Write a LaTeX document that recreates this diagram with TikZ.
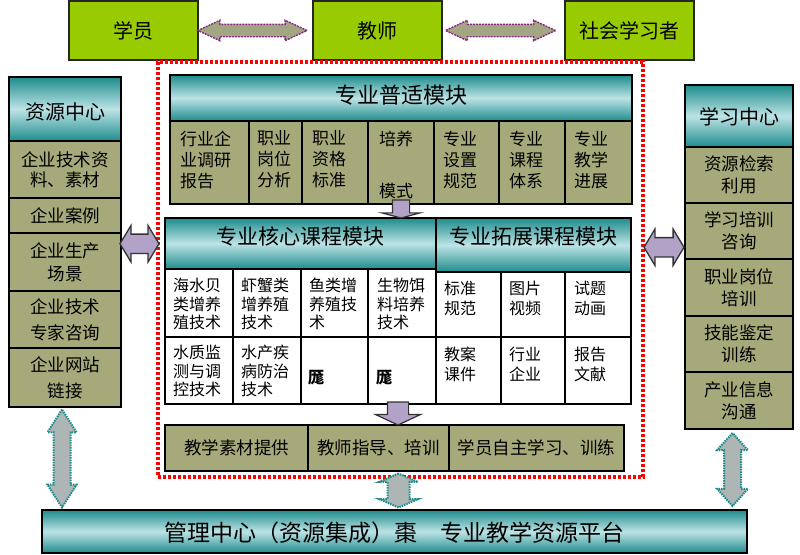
\documentclass[tikz,border=0pt]{standalone}
\usepackage{fontspec}
\setmainfont{Noto Sans CJK SC}
\usetikzlibrary{shapes.arrows,calc}
\definecolor{topgreen}{HTML}{99CC00}
\definecolor{olivecell}{HTML}{A6AA7A}
\definecolor{tealdark}{HTML}{1E8C8C}
\definecolor{teallight}{HTML}{BDE3E6}
\definecolor{arrowpurple}{HTML}{B3A2C7}
\definecolor{dashpurple}{HTML}{862A86}
\definecolor{greyarrow}{HTML}{ADB5B5}
\definecolor{tealdot}{HTML}{1F8A8A}
\definecolor{topolive}{HTML}{A3A683}
\tikzset{
 box/.style={draw=black, line width=1.2pt, inner sep=0pt, outer sep=0pt, anchor=north west},
 topbox/.style={box, fill=topgreen, draw=black!85, line width=1.5pt, font=\fontsize{20}{24}\selectfont},
 hdr/.style={box, top color=tealdark, bottom color=tealdark, middle color=teallight},
 oli/.style={box, fill=olivecell},
 wcell/.style={box, fill=white},
 frame/.style={draw=black, line width=2.6pt},
 zone/.style={draw=red, line width=3.2pt, dash pattern=on 3pt off 2pt, inner sep=0pt, outer sep=0pt, anchor=north west},
 ctext/.style={inner sep=0pt, anchor=north west, align=left, font=\fontsize{17}{21}\selectfont},
 ktext/.style={inner sep=0pt, anchor=north west, align=left, font=\fontsize{16}{18.5}\selectfont},
 etext/.style={inner sep=0pt, anchor=north west, align=left, font=\fontsize{16}{20}\selectfont},
 stext/.style={inner sep=0pt, align=center, font=\fontsize{17.5}{23}\selectfont},
 htext/.style={inner sep=0pt, font=\fontsize{21}{24}\selectfont},
 toparrow/.style={double arrow, fill=topolive, draw=dashpurple, line width=1.4pt, dash pattern=on 2pt off 1pt, inner xsep=0pt, inner ysep=5.5pt, outer sep=0pt, double arrow head extend=4pt, double arrow tip angle=50, minimum height=109pt},
 midarrow/.style={double arrow, fill=arrowpurple, draw=black!80, line width=1.3pt, inner xsep=0pt, inner ysep=9pt, outer sep=0pt, double arrow head extend=8.5pt, double arrow tip angle=118},
 greyvarrow/.style={double arrow, fill=greyarrow, draw=tealdot, line width=2pt, dash pattern=on 1.5pt off 1pt, inner xsep=0pt, outer sep=0pt, rotate=90},
 downarrow/.style={single arrow, fill=arrowpurple, draw=black!80, line width=1.2pt, inner xsep=0pt, outer sep=0pt, rotate=-90, anchor=tail},
}
\begin{document}
\begin{tikzpicture}[x=1pt,y=-1pt]
\useasboundingbox (0,0) rectangle (800,554);
% top boxes
\node[topbox, minimum width=129pt, minimum height=59pt] (xueyuan) at (69,1) {学员};
\node[topbox, minimum width=129pt, minimum height=59pt] (jiaoshi) at (313,1) {教师};
\node[topbox, minimum width=129pt, minimum height=59pt] (shehui) at (565,1) {社会学习者};
\node[toparrow] (a1) at ($(xueyuan.east)!0.5!(jiaoshi.west)+(-3,0)$) {};
\node[toparrow, minimum height=110pt] (a2) at ($(jiaoshi.east)!0.5!(shehui.west)+(-3,0)$) {};
% zone
\node[zone, minimum width=485pt, minimum height=415pt] (zone) at (158,62) {};
% left column
\node[hdr, minimum width=112pt, minimum height=64pt] (lh) at (9,77) {};
\node[htext, font=\fontsize{20}{24}\selectfont] (lht) at ([yshift=-3pt]lh.center) {资源中心};
\node[oli, minimum width=112pt, minimum height=57pt] (l1) at (9,141) {};
\node[oli, minimum width=112pt, minimum height=35pt] (l2) at (9,198) {};
\node[oli, minimum width=112pt, minimum height=58pt] (l3) at (9,233) {};
\node[oli, minimum width=112pt, minimum height=57pt] (l4) at (9,291) {};
\node[oli, minimum width=112pt, minimum height=59pt] (l5) at (9,348) {};
\node[stext, font=\fontsize{17.5}{20}\selectfont] (l1t) at (l1.center) {企业技术资\\料、素材};
\node[stext] (l2t) at (l2.center) {企业案例};
\node[stext] (l3t) at (l3.center) {企业生产\\场景};
\node[stext, font=\fontsize{17.5}{26}\selectfont] (l4t) at (l4.center) {企业技术\\专家咨询};
\node[stext, font=\fontsize{17.5}{26}\selectfont] (l5t) at (l5.center) {企业网站\\链接};
\draw[frame] (lh.north west) rectangle (l5.south east);
% right column
\node[hdr, minimum width=108pt, minimum height=62pt] (rh) at (685,85) {};
\node[htext, font=\fontsize{20}{24}\selectfont] (rht) at ([yshift=-1pt]rh.center) {学习中心};
\node[oli, minimum width=108pt, minimum height=56pt] (r1) at (685,147) {};
\node[oli, minimum width=108pt, minimum height=56pt] (r2) at (685,203) {};
\node[oli, minimum width=108pt, minimum height=57pt] (r3) at (685,259) {};
\node[oli, minimum width=108pt, minimum height=56pt] (r4) at (685,316) {};
\node[oli, minimum width=108pt, minimum height=57pt] (r5) at (685,372) {};
\node[stext, font=\fontsize{17.5}{22}\selectfont] (r1t) at (r1.center) {资源检索\\利用};
\node[stext, font=\fontsize{17.5}{22}\selectfont] (r2t) at (r2.center) {学习培训\\咨询};
\node[stext, font=\fontsize{17.5}{22}\selectfont] (r3t) at (r3.center) {职业岗位\\培训};
\node[stext, font=\fontsize{17.5}{22}\selectfont] (r4t) at (r4.center) {技能鉴定\\训练};
\node[stext, font=\fontsize{17.5}{22}\selectfont] (r5t) at (r5.center) {产业信息\\沟通};
\draw[frame] (rh.north west) rectangle (r5.south east);
% general module
\node[hdr, minimum width=462pt, minimum height=46pt] (ph) at (170,75) {};
\node[htext, font=\fontsize{22}{24}\selectfont] (pht) at ([yshift=3pt]ph.center) {专业普适模块};
\node[oli, minimum width=79pt, minimum height=83pt] (p1) at (170,121) {};
\node[oli, minimum width=53pt, minimum height=83pt] (p2) at (249,121) {};
\node[oli, minimum width=66pt, minimum height=83pt] (p3) at (302,121) {};
\node[oli, minimum width=66pt, minimum height=83pt] (p4) at (368,121) {};
\node[oli, minimum width=65pt, minimum height=83pt] (p5) at (434,121) {};
\node[oli, minimum width=66pt, minimum height=83pt] (p6) at (499,121) {};
\node[oli, minimum width=67pt, minimum height=83pt] (p7) at (565,121) {};
\node[ctext] (p1t) at ([shift={(10pt,-9.5pt)}]p1.north west) {行业企\\业调研\\报告};
\node[ctext] (p2t) at ([shift={(8pt,-9.5pt)}]p2.north west) {职业\\岗位\\分析};
\node[ctext] (p3t) at ([shift={(10pt,-9.5pt)}]p3.north west) {职业\\资格\\标准};
\node[ctext] (p4t) at ([shift={(11pt,-9.5pt)}]p4.north west) {培养\\[31pt]模式};
\node[ctext] (p5t) at ([shift={(9pt,-9.5pt)}]p5.north west) {专业\\设置\\规范};
\node[ctext] (p6t) at ([shift={(10pt,-9.5pt)}]p6.north west) {专业\\课程\\体系};
\node[ctext] (p7t) at ([shift={(9pt,-9.5pt)}]p7.north west) {专业\\教学\\进展};
\draw[frame] (ph.north west) rectangle (p7.south east);
% core module
\node[hdr, minimum width=271pt, minimum height=51pt] (kh) at (165,218) {};
\node[htext] (kht) at ([yshift=7pt]kh.center) {专业核心课程模块};
\node[wcell, minimum width=68pt, minimum height=68pt] (k1) at (165,269) {};
\node[wcell, minimum width=68pt, minimum height=68pt] (k2) at (233,269) {};
\node[wcell, minimum width=67pt, minimum height=68pt] (k3) at (301,269) {};
\node[wcell, minimum width=68pt, minimum height=68pt] (k4) at (368,269) {};
\node[wcell, minimum width=68pt, minimum height=67pt] (k5) at (165,337) {};
\node[wcell, minimum width=68pt, minimum height=67pt] (k6) at (233,337) {};
\node[wcell, minimum width=67pt, minimum height=67pt] (k7) at (301,337) {};
\node[wcell, minimum width=68pt, minimum height=67pt] (k8) at (368,337) {};
\node[ktext] (k1t) at ([shift={(8pt,-9pt)}]k1.north west) {海水贝\\类增养\\殖技术};
\node[ktext] (k2t) at ([shift={(8pt,-9pt)}]k2.north west) {虾蟹类\\增养殖\\技术};
\node[ktext] (k3t) at ([shift={(8pt,-9pt)}]k3.north west) {鱼类增\\养殖技\\术};
\node[ktext] (k4t) at ([shift={(9pt,-9pt)}]k4.north west) {生物饵\\料培养\\技术};
\node[ktext] (k5t) at ([shift={(8pt,-8pt)}]k5.north west) {水质监\\测与调\\控技术};
\node[ktext] (k6t) at ([shift={(8pt,-8pt)}]k6.north west) {水产疾\\病防治\\技术};
\node[inner sep=0pt, anchor=west, font=\fontsize{16}{18}\selectfont\bfseries] (k7t) at ([shift={(7pt,-7.5pt)}]k7.west) {厖};
\node[inner sep=0pt, anchor=west, font=\fontsize{16}{18}\selectfont\bfseries] (k8t) at ([shift={(8pt,-7.5pt)}]k8.west) {厖};
\draw[frame] (kh.north west) rectangle (k8.south east);
% extension module
\node[hdr, minimum width=195pt, minimum height=54pt] (eh) at (436,218) {};
\node[htext] (eht) at ([yshift=8pt]eh.center) {专业拓展课程模块};
\node[wcell, minimum width=65pt, minimum height=65pt] (e1) at (436,272) {};
\node[wcell, minimum width=64pt, minimum height=65pt] (e2) at (501,272) {};
\node[wcell, minimum width=66pt, minimum height=65pt] (e3) at (565,272) {};
\node[wcell, minimum width=65pt, minimum height=67pt] (e4) at (436,337) {};
\node[wcell, minimum width=64pt, minimum height=67pt] (e5) at (501,337) {};
\node[wcell, minimum width=66pt, minimum height=67pt] (e6) at (565,337) {};
\node[etext] (e1t) at ([shift={(8pt,-9pt)}]e1.north west) {标准\\规范};
\node[etext] (e2t) at ([shift={(8pt,-9pt)}]e2.north west) {图片\\视频};
\node[etext] (e3t) at ([shift={(9pt,-9pt)}]e3.north west) {试题\\动画};
\node[etext] (e4t) at ([shift={(8pt,-10pt)}]e4.north west) {教案\\课件};
\node[etext] (e5t) at ([shift={(8pt,-10pt)}]e5.north west) {行业\\企业};
\node[etext] (e6t) at ([shift={(9pt,-10pt)}]e6.north west) {报告\\文献};
\draw[frame] (eh.north west) rectangle (e6.south east);
% sub row
\node[oli, minimum width=143pt, minimum height=46pt] (s1) at (165,425) {};
\node[oli, minimum width=141pt, minimum height=46pt] (s2) at (308,425) {};
\node[oli, minimum width=175pt, minimum height=46pt] (s3) at (449,425) {};
\node[stext] (s1t) at (s1.center) {教学素材提供};
\node[stext] (s2t) at (s2.center) {教师指导、培训};
\node[stext] (s3t) at (s3.center) {学员自主学习、训练};
\draw[draw=black, line width=2pt] (s1.north west) rectangle (s3.south east);
% bottom bar
\node[hdr, minimum width=705pt, minimum height=43pt, line width=2pt] (bar) at (42,510) {};
\node[inner sep=0pt, font=\fontsize{23}{26}\selectfont] (bart) at ([yshift=-1.5pt]bar.center) {管理中心（资源集成）棗　专业教学资源平台};
% arrows
\node[downarrow, inner ysep=8pt, single arrow head extend=10.5pt, single arrow tip angle=150, minimum height=18pt] (d1) at ($(ph.center |- p4.south)+(0,-4)$) {};
\node[downarrow, inner ysep=10pt, single arrow head extend=12pt, single arrow tip angle=130, minimum height=23pt] (d2) at ($(k8.south east)+(-38,-2)$) {};
\node[midarrow, minimum height=39pt] (ml) at ($(l3.east)!0.5!(zone.west)+(0,-22)$) {};
\node[midarrow, minimum height=40pt] (mr) at ($(zone.east)!0.5!(r2.west)+(0,-3)$) {};
\node[greyvarrow, inner ysep=7.5pt, double arrow head extend=6pt, double arrow tip angle=65, minimum height=98pt] (vl) at ($(l5.south)!0.5!(bar.north -| l5.south)+(-3,0)$) {};
\node[greyvarrow, inner ysep=7.5pt, double arrow head extend=7pt, double arrow tip angle=84, minimum height=73pt] (vr) at ($(r5.south)!0.5!(bar.north -| r5.south)+(-6.5,0)$) {};
\node[greyvarrow, inner ysep=10pt, double arrow head extend=8.5pt, double arrow tip angle=133, minimum height=34pt] (vc) at ($(s2.south)!0.5!(bar.north -| s2.south)+(20,0)$) {};
\end{tikzpicture}
\end{document}
